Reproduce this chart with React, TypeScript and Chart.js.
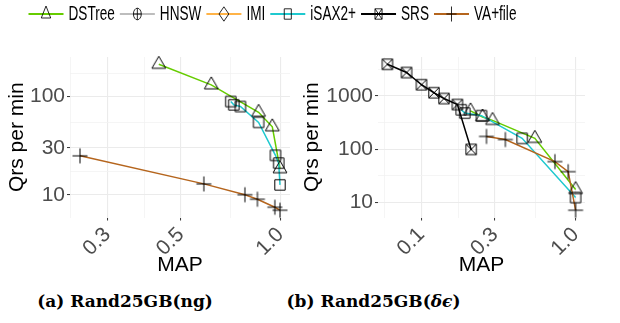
import React, { useEffect, useRef } from "react";
import { Chart, registerables } from "chart.js";

Chart.register(...registerables);

// ---------- series ----------
const SERIES_NAMES = ["DSTree", "HNSW", "IMI", "iSAX2+", "SRS", "VA+file"];
const SERIES_COLORS = ["#66CC00", "#BDBDBD", "#FFB347", "#1FC9CF", "#000000", "#B5651D"];
const SERIES_MARKERS = ["triangle", "circlePlus", "diamond", "square", "squareX", "plus"];

// ---------- (a) Rand25GB(ng) ----------
const A_DSTREE_MAP = [0.429, 0.618, 0.859, 0.945, 0.997];
const A_DSTREE_QPM = [213, 131.5, 69.1, 49.2, 18.4];
const A_ISAX_MAP = [0.708, 0.723, 0.757, 0.859, 0.966, 0.988, 0.997];
const A_ISAX_QPM = [88.9, 82.3, 79.1, 54.6, 25.2, 21.0, 12.6];
const A_VAFILE_MAP = [0.248, 0.587, 0.781, 0.852, 0.962, 0.997];
const A_VAFILE_QPM = [24.9, 12.9, 10.0, 9.0, 7.46, 6.96];

const A_X_MAJOR = [0.3, 0.5, 1.0];
const A_X_LABELS = ["0.3", "0.5", "1.0"];
const A_X_MINOR = [0.2316, 0.3873, 0.7071];
const A_Y_MAJOR = [10, 30, 100];
const A_Y_LABELS = ["10", "30", "100"];
const A_Y_MINOR = [17.32, 54.77, 173.2];

// ---------- (b) Rand25GB(δϵ) ----------
const B_DSTREE_MAP = [0.208, 0.249, 0.289, 0.544, 1.0];
const B_DSTREE_QPM = [521, 400, 345, 159, 17.5];
const B_ISAX_MAP = [0.181, 0.191, 0.245, 0.45, 1.0];
const B_ISAX_QPM = [546, 473, 423, 159, 12.4];
const B_SRS_MAP = [0.0601, 0.08, 0.1, 0.1205, 0.14, 0.171, 0.21];
const B_SRS_QPM = [3882, 2723, 1608, 1138, 886, 684, 98.7];
const B_VAFILE_MAP = [0.264, 0.35, 0.734, 0.895, 1.0];
const B_VAFILE_QPM = [173, 151, 58.3, 37.8, 7.17];

const B_X_MAJOR = [0.1, 0.3, 1.0];
const B_X_LABELS = ["0.1", "0.3", "1.0"];
const B_X_MINOR = [0.0577, 0.1732, 0.5477];
const B_Y_MAJOR = [10, 100, 1000];
const B_Y_LABELS = ["10", "100", "1000"];
const B_Y_MINOR = [31.62, 316.2, 3162];

const X_TITLE = "MAP";
const Y_TITLE = "Qrs per min";

const PANEL_A = {
  series: [
    { name: "DSTree", map: A_DSTREE_MAP, qpm: A_DSTREE_QPM },
    { name: "iSAX2+", map: A_ISAX_MAP, qpm: A_ISAX_QPM },
    { name: "VA+file", map: A_VAFILE_MAP, qpm: A_VAFILE_QPM },
  ],
  xMajor: A_X_MAJOR, xLabels: A_X_LABELS, xMinor: A_X_MINOR,
  yMajor: A_Y_MAJOR, yLabels: A_Y_LABELS, yMinor: A_Y_MINOR,
};
const PANEL_B = {
  series: [
    { name: "DSTree", map: B_DSTREE_MAP, qpm: B_DSTREE_QPM },
    { name: "iSAX2+", map: B_ISAX_MAP, qpm: B_ISAX_QPM },
    { name: "SRS", map: B_SRS_MAP, qpm: B_SRS_QPM },
    { name: "VA+file", map: B_VAFILE_MAP, qpm: B_VAFILE_QPM },
  ],
  xMajor: B_X_MAJOR, xLabels: B_X_LABELS, xMinor: B_X_MINOR,
  yMajor: B_Y_MAJOR, yLabels: B_Y_LABELS, yMinor: B_Y_MINOR,
};

// ---------- layout (pixels) ----------
const FONT = "'Liberation Sans', Arial, sans-serif";
const CANVAS_H = 290;
const LAYOUT_A = { left: 0, width: 310, yAxisW: 70, padRight: 20, titlePad: 5 };
const LAYOUT_B = { left: 300, width: 320, yAxisW: 78, padRight: 35, titlePad: 0 };
const PLOT_TOP = 57;
const X_AXIS_H = 72.5;
const LEGEND_SCALE = 0.68;
const LEGEND_X0 = 28.5;
const LEGEND_CY = 14;
const LEGEND_KEY_W = 35;
const LEGEND_GAP = 5;

function drawMarker(ctx: CanvasRenderingContext2D, kind: string, cx: number, cy: number) {
  ctx.save();
  ctx.strokeStyle = "#000";
  ctx.lineWidth = 1;
  ctx.beginPath();
  if (kind === "triangle") {
    const r = 8;
    ctx.moveTo(cx, cy - r);
    ctx.lineTo(cx + r * 0.866, cy + r / 2);
    ctx.lineTo(cx - r * 0.866, cy + r / 2);
    ctx.closePath();
  } else if (kind === "square" || kind === "squareX") {
    const h = 5.2;
    ctx.rect(cx - h, cy - h, 2 * h, 2 * h);
    if (kind === "squareX") {
      ctx.moveTo(cx - h, cy - h);
      ctx.lineTo(cx + h, cy + h);
      ctx.moveTo(cx + h, cy - h);
      ctx.lineTo(cx - h, cy + h);
    }
  } else if (kind === "plus") {
    const h = 7.5;
    ctx.moveTo(cx - h, cy);
    ctx.lineTo(cx + h, cy);
    ctx.moveTo(cx, cy - h);
    ctx.lineTo(cx, cy + h);
  } else if (kind === "circlePlus") {
    const r = 5.8;
    ctx.arc(cx, cy, r, 0, Math.PI * 2);
    ctx.moveTo(cx - r, cy);
    ctx.lineTo(cx + r, cy);
    ctx.moveTo(cx, cy - r);
    ctx.lineTo(cx, cy + r);
  } else if (kind === "diamond") {
    const r = 7.2;
    ctx.moveTo(cx, cy - r);
    ctx.lineTo(cx + r, cy);
    ctx.lineTo(cx, cy + r);
    ctx.lineTo(cx - r, cy);
    ctx.closePath();
  }
  ctx.stroke();
  ctx.restore();
}

function markerCanvas(kind: string, w: number, h: number) {
  const c = document.createElement("canvas");
  c.width = w;
  c.height = h;
  const ctx = c.getContext("2d")!;
  drawMarker(ctx, kind, w / 2, h / 2);
  return c;
}

function logLimits(vals: number[]) {
  const lo = Math.log10(Math.min(...vals));
  const hi = Math.log10(Math.max(...vals));
  const e = (hi - lo) * 0.05;
  return [Math.pow(10, lo - e), Math.pow(10, hi + e)];
}

function axisOptions(major: number[], labels: string[], minor: number[], lim: number[], horizontal: boolean, layout: any) {
  const isMajor = (ctx: any) => ctx && ctx.tick && major.includes(ctx.tick.value);
  return {
    type: "logarithmic",
    min: lim[0],
    max: lim[1],
    afterBuildTicks: (scale: any) => {
      scale.ticks = [...major, ...minor]
        .filter((v) => v >= scale.min && v <= scale.max)
        .sort((a, b) => a - b)
        .map((v) => ({ value: v }));
    },
    afterFit: (scale: any) => {
      if (horizontal) scale.height = X_AXIS_H;
      else scale.width = layout.yAxisW;
    },
    border: { display: false },
    grid: {
      color: (ctx: any) => (isMajor(ctx) ? "#EBEBEB" : "#F3F3F3"),
      lineWidth: (ctx: any) => (isMajor(ctx) ? 1.1 : 0.8),
      tickColor: (ctx: any) => (isMajor(ctx) ? "#333333" : "rgba(0,0,0,0)"),
      tickLength: 3,
      tickWidth: 1,
      drawTicks: true,
    },
    ticks: {
      autoSkip: false,
      minRotation: horizontal ? 45 : 0,
      maxRotation: horizontal ? 45 : 0,
      padding: 2,
      color: "#4D4D4D",
      font: { family: FONT, size: 21 },
      callback: (value: number) => {
        const i = major.indexOf(value);
        return i >= 0 ? labels[i] : "";
      },
    },
    title: {
      display: true,
      text: horizontal ? X_TITLE : Y_TITLE,
      color: "#000",
      font: { family: FONT, size: 21 },
      padding: horizontal ? { top: 0, bottom: 12.5 } : { top: layout.titlePad, bottom: 0 },
    },
  };
}

function makePanel(canvas: HTMLCanvasElement, panel: any, layout: any, images: HTMLCanvasElement[]) {
  const datasets: any[] = [];
  panel.series.forEach((s: any) => {
    const idx = SERIES_NAMES.indexOf(s.name);
    const pts = s.map.map((m: number, i: number) => ({ x: m, y: s.qpm[i] }));
    datasets.push({
      label: s.name,
      data: pts,
      borderColor: SERIES_COLORS[idx],
      borderWidth: 1.5,
      pointRadius: 0,
      tension: 0,
      fill: false,
      clip: false,
      order: 20 - idx,
    });
    datasets.push({
      label: s.name + " points",
      data: pts,
      showLine: false,
      pointStyle: images[idx],
      pointRadius: 8,
      clip: false,
      order: 10 - idx,
    });
  });
  const allX = panel.series.flatMap((s: any) => s.map);
  const allY = panel.series.flatMap((s: any) => s.qpm);
  return new Chart(canvas, {
    type: "line",
    data: { datasets },
    options: {
      animation: false,
      responsive: false,
      maintainAspectRatio: false,
      events: [],
      layout: { padding: { top: PLOT_TOP, right: layout.padRight, left: 0, bottom: 0 } },
      scales: {
        x: axisOptions(panel.xMajor, panel.xLabels, panel.xMinor, logLimits(allX), true, layout) as any,
        y: axisOptions(panel.yMajor, panel.yLabels, panel.yMinor, logLimits(allY), false, layout) as any,
      },
      plugins: { legend: { display: false }, tooltip: { enabled: false }, title: { display: false } },
    } as any,
  });
}

const legendPlugin = {
  id: "keyLegend",
  afterDraw(chart: any) {
    const ctx: CanvasRenderingContext2D = chart.ctx;
    ctx.save();
    ctx.font = `20px ${FONT}`;
    ctx.textBaseline = "middle";
    ctx.textAlign = "left";
    let x = LEGEND_X0;
    const cy = LEGEND_CY;
    SERIES_NAMES.forEach((name, i) => {
      ctx.strokeStyle = SERIES_COLORS[i];
      ctx.lineWidth = 2;
      ctx.beginPath();
      ctx.moveTo(x, cy);
      ctx.lineTo(x + LEGEND_KEY_W, cy);
      ctx.stroke();
      ctx.save();
      ctx.translate(x + LEGEND_KEY_W / 2, cy);
      ctx.scale(LEGEND_SCALE, 1);
      drawMarker(ctx, SERIES_MARKERS[i], 0, 0);
      ctx.restore();
      x += LEGEND_KEY_W + LEGEND_GAP;
      const w = ctx.measureText(name).width * LEGEND_SCALE;
      ctx.save();
      ctx.translate(x, cy);
      ctx.scale(LEGEND_SCALE, 1);
      ctx.fillStyle = "#000";
      ctx.fillText(name, 0, 0);
      ctx.restore();
      x += w + LEGEND_GAP;
    });
    ctx.restore();
  },
};

function makeLegend(canvas: HTMLCanvasElement) {
  return new Chart(canvas, {
    type: "line",
    data: { datasets: SERIES_NAMES.map((n) => ({ label: n, data: [] })) },
    options: {
      animation: false,
      responsive: false,
      maintainAspectRatio: false,
      events: [],
      scales: { x: { display: false }, y: { display: false } },
      plugins: { tooltip: { enabled: false }, legend: { display: false } },
    } as any,
    plugins: [legendPlugin],
  });
}

export default function App() {
  const legendRef = useRef<HTMLCanvasElement>(null);
  const aRef = useRef<HTMLCanvasElement>(null);
  const bRef = useRef<HTMLCanvasElement>(null);

  useEffect(() => {
    const images = SERIES_MARKERS.map((k) => markerCanvas(k, 20, 20));
    const charts = [
      makePanel(aRef.current!, PANEL_A, LAYOUT_A, images),
      makePanel(bRef.current!, PANEL_B, LAYOUT_B, images),
      makeLegend(legendRef.current!),
    ];
    return () => charts.forEach((c) => c.destroy());
  }, []);

  const captionStyle: React.CSSProperties = {
    position: "absolute",
    top: 290,
    width: 220,
    textAlign: "center",
    fontFamily: "'DejaVu Serif', serif",
    fontWeight: "bold",
    fontSize: 17,
    lineHeight: "22px",
    color: "#000",
    whiteSpace: "nowrap",
  };

  return (
    <div style={{ position: "absolute", left: 0, top: 0, width: 620, height: 323, background: "#fff", overflow: "hidden" }}>
      <canvas
        ref={aRef}
        width={LAYOUT_A.width}
        height={CANVAS_H}
        style={{ position: "absolute", left: LAYOUT_A.left, top: 0, width: LAYOUT_A.width, height: CANVAS_H }}
      />
      <canvas
        ref={bRef}
        width={LAYOUT_B.width}
        height={CANVAS_H}
        style={{ position: "absolute", left: LAYOUT_B.left, top: 0, width: LAYOUT_B.width, height: CANVAS_H }}
      />
      <canvas
        ref={legendRef}
        width={620}
        height={30}
        style={{ position: "absolute", left: 0, top: 0, width: 620, height: 30, zIndex: 2 }}
      />
      <div style={{ ...captionStyle, left: 15 }}>(a) Rand25GB(ng)</div>
      <div style={{ ...captionStyle, left: 263.5 }}>
        (b) Rand25GB(<i>δϵ</i>)
      </div>
    </div>
  );
}
